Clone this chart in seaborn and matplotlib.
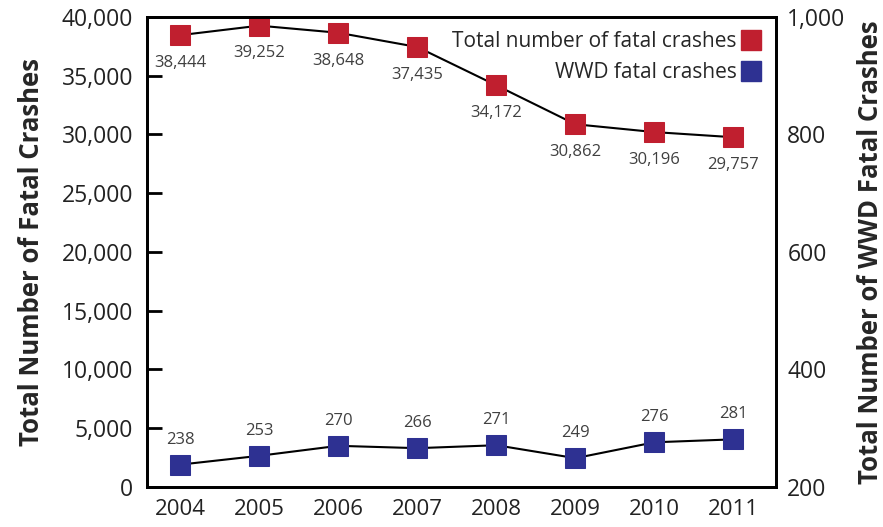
import matplotlib
matplotlib.use("Agg")
import matplotlib.pyplot as plt
import pandas as pd
import seaborn as sns
from matplotlib.lines import Line2D
from matplotlib.ticker import FuncFormatter

years = ["2004", "2005", "2006", "2007", "2008", "2009", "2010", "2011"]
total_fatal = [38444, 39252, 38648, 37435, 34172, 30862, 30196, 29757]
wwd_fatal = [238, 253, 270, 266, 271, 249, 276, 281]
series_names = ["Total number of fatal crashes", "WWD fatal crashes"]

red = "#C01F2F"
blue = "#2E3192"

sns.set_style("white")
plt.rcParams["font.family"] = ["Open Sans", "DejaVu Sans"]

df = pd.DataFrame({"year": years, "total": total_fatal, "wwd": wwd_fatal})
df["pos"] = range(len(df))

fig = plt.figure(figsize=(8.83, 5.27), dpi=100)
ax = fig.add_axes([0.1665, 0.076, 0.7125, 0.892])
ax2 = ax.twinx()

sns.lineplot(data=df, x="pos", y="total", ax=ax, color="black", lw=1.5,
             marker="s", markersize=14, markerfacecolor=red,
             markeredgecolor=red, legend=False)
sns.lineplot(data=df, x="pos", y="wwd", ax=ax2, color="black", lw=1.5,
             marker="s", markersize=14, markerfacecolor=blue,
             markeredgecolor=blue, legend=False)

for x, v in zip(df["pos"], total_fatal):
    ax.annotate(f"{v:,}", (x, v), xytext=(0, -20), textcoords="offset points",
                ha="center", va="center", fontsize=12, color="#404040")
for x, v in zip(df["pos"], wwd_fatal):
    ax2.annotate(f"{v}", (x, v), xytext=(0, 18), textcoords="offset points",
                 ha="center", va="center", fontsize=12, color="#404040")

ax.set_xlim(-0.42, 7.54)
ax.set_ylim(0, 40000)
ax2.set_ylim(200, 1000)
ax.set_yticks(range(0, 40001, 5000))
ax2.set_yticks([200, 400, 600, 800, 1000])
ax.set_xticks(df["pos"])
ax.set_xticklabels(years)
ax.yaxis.set_major_formatter(FuncFormatter(lambda v, p: f"{int(v):,}"))
ax2.yaxis.set_major_formatter(FuncFormatter(lambda v, p: f"{int(v):,}"))

ax.tick_params(axis="y", direction="in", length=11, width=2, labelsize=16.5,
               pad=10, colors="black", labelcolor="#222222")
ax.tick_params(axis="x", length=0, labelsize=16, pad=9, labelcolor="#222222")
ax2.tick_params(axis="y", length=0, labelsize=16.5, pad=8,
                labelcolor="#222222")

ax.set_xlabel("")
ax.set_ylabel("Total Number of Fatal Crashes", fontsize=18.5,
              fontweight="bold", labelpad=12)
ax2.set_ylabel("Total Number of WWD Fatal Crashes", fontsize=18.5,
               fontweight="bold", labelpad=8)

for a in (ax, ax2):
    for s in a.spines.values():
        s.set_color("black")
        s.set_linewidth(2)

handles = [Line2D([], [], ls="", marker="s", markersize=14, color=red),
           Line2D([], [], ls="", marker="s", markersize=14, color=blue)]
ax2.legend(handles, series_names, loc="upper right", frameon=False,
           markerfirst=False, fontsize=15, handletextpad=0.2,
           labelspacing=0.45, borderaxespad=0.3, handlelength=1.0)

fig.savefig("out.png", dpi=100)
